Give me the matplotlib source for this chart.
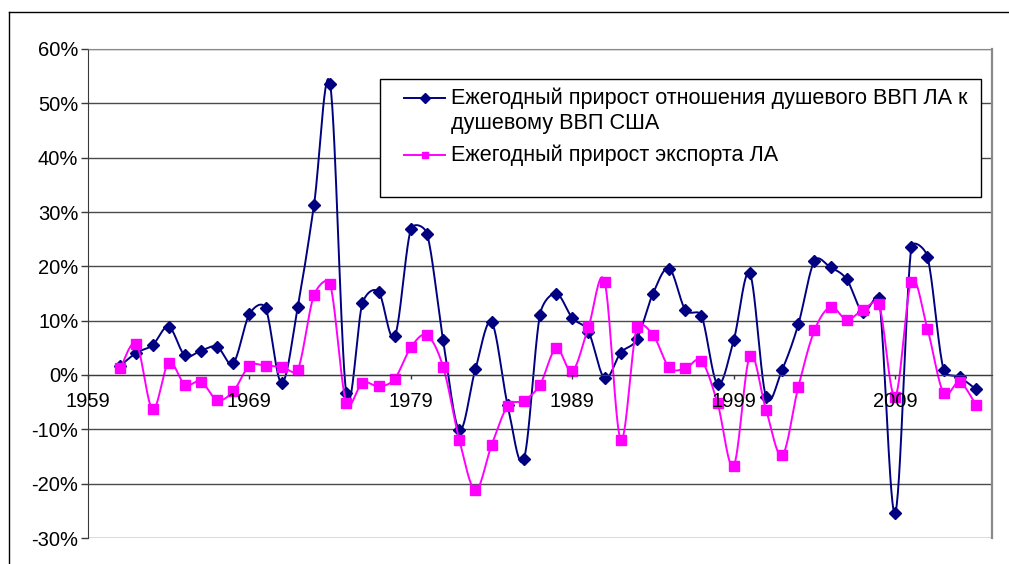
import numpy as np
import matplotlib
matplotlib.use("Agg")
import matplotlib.pyplot as plt
from matplotlib.lines import Line2D
from matplotlib.patches import Rectangle

# ---------------- data ----------------
years = list(range(1961, 2015))
gdp_ratio_growth = [1.7, 4.1, 5.5, 8.9, 3.6, 4.5, 5.2, 2.2, 11.2, 12.3,
                    -1.5, 12.6, 31.3, 53.5, -3.4, 13.2, 15.3, 7.1, 26.8, 26.0,
                    6.4, -10.1, 1.1, 9.7, -5.6, -15.5, 11.1, 15.0, 10.5, 8.0,
                    -0.6, 4.1, 6.6, 15.0, 19.6, 12.0, 10.9, -1.7, 6.4, 18.7,
                    -4.0, 1.0, 9.3, 21.0, 19.8, 17.6, 11.6, 14.2, -25.4, 23.5,
                    21.8, 1.0, -0.4, -2.6]
export_growth = [1.2, 5.7, -6.3, 2.3, -1.8, -1.2, -4.6, -3.0, 1.7, 1.7,
                 1.5, 1.0, 14.7, 16.7, -5.2, -1.4, -2.1, -0.7, 5.1, 7.3,
                 1.5, -11.9, -21.2, -12.9, -5.7, -4.7, -1.8, 4.9, 0.7, 8.8,
                 17.2, -11.9, 8.8, 7.4, 1.4, 1.2, 2.6, -5.2, -16.7, 3.5,
                 -6.4, -14.8, -2.2, 8.2, 12.5, 10.2, 12.0, 13.0, -4.0, 17.2,
                 8.5, -3.3, -1.3, -5.5]
series_labels = ["Ежегодный прирост отношения душевого ВВП ЛА к\nдушевому ВВП США",
                 "Ежегодный прирост экспорта ЛА"]
x_tick_values = [1959, 1969, 1979, 1989, 1999, 2009]
x_tick_labels = ["1959", "1969", "1979", "1989", "1999", "2009"]
y_tick_values = [-30, -20, -10, 0, 10, 20, 30, 40, 50, 60]
y_tick_labels = ["-30%", "-20%", "-10%", "0%", "10%", "20%", "30%", "40%", "50%", "60%"]

plt.rcParams['font.family'] = ['Liberation Sans', 'DejaVu Sans']

W, H = 1009, 564
fig = plt.figure(figsize=(W / 100, H / 100), dpi=100)


def fx(px):
    return px / W


def fy(py):
    return 1 - py / H


ax = fig.add_axes([fx(88), fy(538), fx(992) - fx(88), fy(49) - fy(538)])
ax.set_xlim(1959, 2015)
ax.set_ylim(-30, 60)


def smooth(xs, ys, n=30):
    """Excel-like smoothed line: cubic Bezier with Catmull-Rom control
    points (tension 1/6), clamped in screen space to half the segment."""
    pts = ax.transData.transform(np.column_stack([xs, ys]).astype(float))
    out = []
    m = len(pts)
    for i in range(m - 1):
        p0 = pts[i - 1] if i > 0 else pts[i]
        p1 = pts[i]
        p2 = pts[i + 1]
        p3 = pts[i + 2] if i + 2 < m else pts[i + 1]
        seg_len = np.hypot(*(p2 - p1))
        d1 = (p2 - p0) / 6.0
        d2 = (p3 - p1) / 6.0
        l1 = np.hypot(*d1)
        l2 = np.hypot(*d2)
        if l1 > 0.5 * seg_len and l1 > 0:
            d1 = d1 * (0.5 * seg_len / l1)
        if l2 > 0.5 * seg_len and l2 > 0:
            d2 = d2 * (0.5 * seg_len / l2)
        c1 = p1 + d1
        c2 = p2 - d2
        t = np.linspace(0, 1, n, endpoint=(i == m - 2))[:, None]
        seg = ((1 - t) ** 3) * p1 + 3 * ((1 - t) ** 2) * t * c1 + 3 * (1 - t) * t ** 2 * c2 + t ** 3 * p2
        out.append(seg)
    out = ax.transData.inverted().transform(np.vstack(out))
    return out[:, 0], out[:, 1]


# gridlines
for v in y_tick_values:
    ax.axhline(v, color='#4a4a4a', lw=1.0, zorder=0.5)

blue = '#000080'
pink = '#FF00FF'
sx, sy = smooth(years, gdp_ratio_growth)
ax.plot(sx, sy, color=blue, lw=1.4, zorder=2, solid_joinstyle='round')
ax.plot(years, gdp_ratio_growth, linestyle='none', marker='D', ms=6.6,
        color=blue, mec=blue, zorder=2.1)
sx, sy = smooth(years, export_growth)
ax.plot(sx, sy, color=pink, lw=1.4, zorder=2.2, solid_joinstyle='round')
ax.plot(years, export_growth, linestyle='none', marker='s', ms=6.8,
        color=pink, mec=pink, zorder=2.3)

# axes styling
ax.spines['bottom'].set_position(('data', 0))
ax.spines['bottom'].set_color('#3a3a3a')
ax.spines['left'].set_color('#3a3a3a')
ax.spines['top'].set_color('#8a8a8a')
ax.spines['right'].set_color('#8a8a8a')
ax.spines['right'].set_linewidth(1.6)
ax.set_yticks(y_tick_values)
ax.set_yticklabels(y_tick_labels)
ax.set_xticks(x_tick_values)
ax.set_xticklabels(x_tick_labels)
ax.tick_params(axis='y', direction='out', length=5, width=1, color='#3a3a3a',
               pad=2, labelsize=14.5, labelcolor='black')
ax.tick_params(axis='x', direction='out', length=3, width=1, color='#3a3a3a',
               pad=9, labelsize=14.5, labelcolor='black')
ax.xaxis.set_zorder(3)
ax.yaxis.set_zorder(3)
ax.patch.set_facecolor('white')

# legend box (Excel-like, drawn in figure pixels)
fig.patches.append(Rectangle((fx(380), fy(197)), fx(981) - fx(380), fy(79) - fy(197),
                             transform=fig.transFigure, facecolor='white',
                             edgecolor='black', lw=1.0, zorder=5))
entries = [(98, blue, 'D', 5.0), (155, pink, 's', 5.0)]
for ypx, col, mk, ms in entries:
    fig.add_artist(Line2D([fx(404), fx(445)], [fy(ypx), fy(ypx)], color=col, lw=1.4,
                          transform=fig.transFigure, zorder=6))
    fig.add_artist(Line2D([fx(424.5)], [fy(ypx)], marker=mk, ms=ms, color=col, mec=col,
                          transform=fig.transFigure, zorder=6))
first_lines = series_labels[0].split('\n')
fig.text(fx(451), fy(98), first_lines[0], ha='left', va='center', fontsize=15.6, zorder=7)
fig.text(fx(451), fy(124), first_lines[1], ha='left', va='center', fontsize=15.6, zorder=7)
fig.text(fx(451), fy(155), series_labels[1], ha='left', va='center', fontsize=15.6, zorder=7)

# outer chart frame
fig.add_artist(Line2D([fx(9), fx(9)], [fy(12), 0], color='black', lw=1.0,
                      transform=fig.transFigure))
fig.add_artist(Line2D([fx(9), 1], [fy(12), fy(12)], color='black', lw=1.0,
                      transform=fig.transFigure))

fig.savefig('out.png', dpi=100, facecolor='white')
